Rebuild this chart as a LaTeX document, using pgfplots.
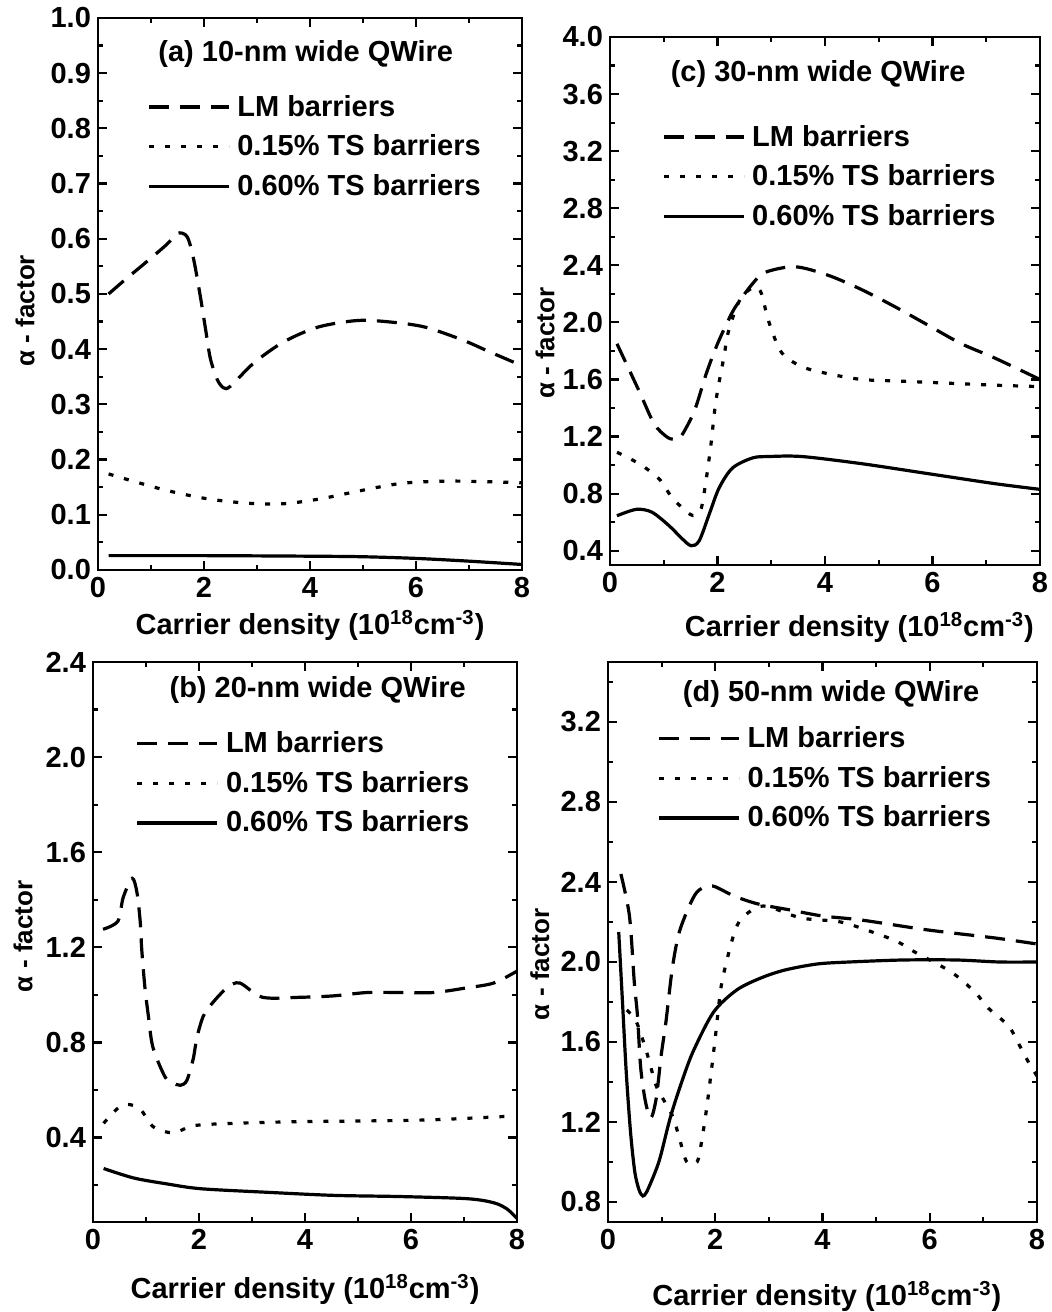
\documentclass[border=0pt]{standalone}
\usepackage{fontspec}
\setmainfont{Liberation Sans}
\usepackage{pgfplots}
\pgfplotsset{compat=1.18}
\tikzset{ttl/.style={font=\fontsize{14.5}{15}\selectfont\bfseries}}
\pgfplotsset{
  qw/.style={
    scale only axis,
    anchor=south west,
    xmin=0, xmax=8,
    xtick={0,2,4,6,8},
    minor x tick num=1,
    minor y tick num=1,
    tick align=inside,
    major tick length=4.5pt,
    minor tick length=2.5pt,
    axis line style={line width=1.35pt},
    tick style={line width=1.1pt, black},
    /pgf/number format/assume math mode=true,
    tick label style={font=\fontsize{14.5}{15}\selectfont\bfseries},
    yticklabel style={/pgf/number format/.cd, fixed, fixed zerofill, precision=1},
    xticklabel style={/pgf/number format/.cd, fixed, precision=0},
    xlabel={Carrier density (10\textsuperscript{18}cm\textsuperscript{-3})},
    ylabel={α - factor},
    xlabel style={font=\fontsize{14.5}{15}\selectfont\bfseries, anchor=center},
    ylabel style={font=\fontsize{13}{13}\selectfont\bfseries, anchor=center},
    legend style={draw=none, fill=none, font=\fontsize{14.5}{15}\selectfont\bfseries,
      anchor=north west, row sep=6.8pt, column sep=3pt, inner sep=0pt, nodes={inner sep=0.5pt}},
    legend cell align=left,
    legend image code/.code={\draw[#1] (0pt,0pt) -- (40pt,0pt);},
  },
  lm/.style={black, line width=1.6pt, dash pattern=on 10pt off 5.5pt, smooth},
  tsa/.style={black, line width=1.6pt, dash pattern=on 2.5pt off 5.5pt, smooth},
  tsb/.style={black, line width=1.6pt, smooth},
}

\begin{document}
\begin{tikzpicture}

% ---------------- (a)
\begin{axis}[qw, at={(49pt,371pt)}, width=212pt, height=276pt,
  ymin=0, ymax=1, ytick={0,0.1,...,1.0},
  xlabel style={at={(axis description cs:0.5,-0.1)}},
  ylabel style={at={(axis description cs:-0.172,0.47)}},
  legend style={at={(axis description cs:0.115,0.863)}}]
\addplot[lm] coordinates {(0.2,0.50) (0.5,0.525) (0.9,0.557) (1.3,0.59) (1.5,0.61) (1.68,0.604) (1.8,0.565) (1.93,0.496) (2.03,0.436) (2.12,0.383) (2.25,0.345) (2.37,0.33) (2.5,0.333) (2.94,0.375) (3.5,0.413) (4.15,0.44) (4.9,0.452) (5.54,0.449) (6.17,0.44) (6.87,0.417) (7.37,0.396) (8.0,0.37)};
\addlegendentry{LM barriers}
\addplot[tsa] coordinates {(0.2,0.174) (0.66,0.161) (1.3,0.144) (2.06,0.129) (2.82,0.121) (3.5,0.12) (4.2,0.129) (4.97,0.144) (5.73,0.157) (6.55,0.161) (7.3,0.16) (8,0.158)};
\addlegendentry{0.15\% TS barriers}
\addplot[tsb] coordinates {(0.2,0.026) (2,0.026) (4,0.025) (5,0.024) (6,0.021) (7,0.016) (8,0.01)};
\addlegendentry{0.60\% TS barriers}
\node[ttl] at (axis description cs:0.49,0.935) {(a) 10-nm wide QWire};
\end{axis}

% ---------------- (c)
\begin{axis}[qw, at={(305pt,373.5pt)}, width=215pt, height=264pt,
  ymin=0.3, ymax=4.0, ytick={0.4,0.8,...,4.01},
  xlabel style={at={(axis description cs:0.58,-0.118)}},
  ylabel style={at={(axis description cs:-0.151,0.42)}},
  legend style={at={(axis description cs:0.12,0.836)}}]
\addplot[lm] coordinates {(0.13,1.85) (0.54,1.52) (0.82,1.29) (1.05,1.2) (1.19,1.18) (1.32,1.2) (1.57,1.38) (1.79,1.64) (2.0,1.85) (2.26,2.06) (2.41,2.15) (2.65,2.27) (2.88,2.35) (3.44,2.39) (4.06,2.33) (4.68,2.23) (5.3,2.11) (5.92,1.98) (6.54,1.85) (7.16,1.75) (8,1.60)};
\addlegendentry{LM barriers}
\addplot[tsa] coordinates {(0.13,1.09) (0.54,1.01) (0.91,0.905) (1.16,0.77) (1.47,0.66) (1.6,0.65) (1.7,0.70) (1.79,0.9) (1.88,1.15) (1.94,1.36) (2.0,1.52) (2.07,1.66) (2.13,1.78) (2.18,1.9) (2.28,2.03) (2.45,2.18) (2.7,2.25) (2.82,2.2) (2.95,2.01) (3.19,1.79) (3.57,1.69) (4.06,1.64) (4.68,1.60) (5.3,1.59) (5.92,1.58) (6.54,1.57) (7.16,1.56) (8,1.55)};
\addlegendentry{0.15\% TS barriers}
\addplot[tsb] coordinates {(0.13,0.645) (0.49,0.69) (0.78,0.67) (1.1,0.575) (1.34,0.485) (1.51,0.435) (1.66,0.47) (1.85,0.66) (2.03,0.84) (2.28,0.98) (2.65,1.05) (2.95,1.06) (3.57,1.06) (4.68,1.01) (5.92,0.94) (7.16,0.87) (8,0.83)};
\addlegendentry{0.60\% TS barriers}
\node[ttl] at (axis description cs:0.484,0.93) {(c) 30-nm wide QWire};
\end{axis}

% ---------------- (b)
\begin{axis}[qw, at={(46.5pt,45pt)}, width=212pt, height=280pt,
  ymin=0.045, ymax=2.4, ytick={0.4,0.8,...,2.41}, minor ytick={0.2,0.6,...,2.3},
  minor y tick num=0,
  xlabel style={at={(axis description cs:0.5,-0.12)}},
  ylabel style={at={(axis description cs:-0.165,0.51)}},
  legend style={at={(axis description cs:0.10,0.878)}}]
\addplot[lm] coordinates {(0.19,1.276) (0.47,1.31) (0.57,1.41) (0.74,1.49) (0.83,1.43) (0.89,1.31) (0.92,1.19) (0.98,1.03) (1.04,0.92) (1.13,0.78) (1.36,0.655) (1.51,0.63) (1.65,0.62) (1.77,0.64) (1.89,0.73) (1.96,0.82) (2.08,0.91) (2.25,0.965) (2.53,1.03) (2.77,1.05) (3.2,0.99) (3.91,0.99) (4.54,0.996) (5.17,1.01) (5.8,1.01) (6.43,1.01) (7.06,1.03) (7.56,1.05) (8,1.1)};
\addlegendentry{LM barriers}
\addplot[tsa] coordinates {(0.2,0.46) (0.45,0.52) (0.64,0.54) (0.89,0.52) (1.14,0.445) (1.52,0.42) (1.9,0.45) (2.65,0.46) (3.91,0.467) (5.17,0.47) (6.43,0.475) (7.87,0.49)};
\addlegendentry{0.15\% TS barriers}
\addplot[tsb] coordinates {(0.2,0.27) (0.77,0.23) (1.4,0.205) (2.03,0.185) (3.28,0.17) (4.54,0.157) (5.8,0.152) (7.06,0.143) (7.56,0.126) (7.81,0.1) (8,0.06)};
\addlegendentry{0.60\% TS barriers}
\node[ttl] at (axis description cs:0.53,0.95) {(b) 20-nm wide QWire};
\end{axis}

% ---------------- (d)
\begin{axis}[qw, at={(304pt,45pt)}, width=214.5pt, height=280pt,
  ymin=0.7, ymax=3.5, ytick={0.8,1.2,...,3.21}, minor ytick={1.0,1.4,...,3.45},
  minor y tick num=0,
  xlabel style={at={(axis description cs:0.51,-0.133)}},
  ylabel style={at={(axis description cs:-0.159,0.46)}},
  legend style={at={(axis description cs:0.114,0.887)}}]
\addplot[lm] coordinates {(0.24,2.44) (0.4,2.23) (0.49,1.9) (0.55,1.73) (0.61,1.47) (0.7,1.3) (0.8,1.22) (0.9,1.32) (0.99,1.53) (1.08,1.70) (1.2,1.97) (1.33,2.15) (1.55,2.3) (1.7,2.36) (1.95,2.38) (2.35,2.33) (2.8,2.29) (3.4,2.26) (4.0,2.23) (4.72,2.21) (5.97,2.16) (7.22,2.12) (8,2.09)};
\addlegendentry{LM barriers}
\addplot[tsa] coordinates {(0.35,1.76) (0.53,1.70) (0.72,1.55) (0.9,1.38) (1.06,1.30) (1.22,1.22) (1.34,1.11) (1.47,1.0) (1.66,1.0) (1.75,1.11) (1.84,1.27) (1.92,1.44) (2.0,1.62) (2.1,1.86) (2.2,1.99) (2.35,2.14) (2.5,2.22) (2.9,2.28) (3.6,2.22) (4.34,2.2) (5.03,2.14) (5.41,2.10) (5.72,2.05) (6.4,1.95) (6.84,1.85) (7.09,1.77) (7.47,1.68) (7.66,1.59) (7.84,1.50) (8,1.43)};
\addlegendentry{0.15\% TS barriers}
\addplot[tsb] coordinates {(0.2,2.15) (0.27,1.8) (0.34,1.45) (0.42,1.15) (0.5,0.95) (0.58,0.86) (0.65,0.83) (0.72,0.85) (0.85,0.93) (0.97,1.02) (1.17,1.23) (1.4,1.42) (1.6,1.56) (1.97,1.75) (2.4,1.86) (2.85,1.92) (3.3,1.96) (3.9,1.99) (4.5,2.0) (5.5,2.01) (6.5,2.01) (7.3,2.0) (8,2.0)};
\addlegendentry{0.60\% TS barriers}
\node[ttl] at (axis description cs:0.52,0.943) {(d) 50-nm wide QWire};
\end{axis}
\pgfresetboundingbox
\path[use as bounding box] (0,0) rectangle (525.5pt,656pt);
\end{tikzpicture}
\end{document}
